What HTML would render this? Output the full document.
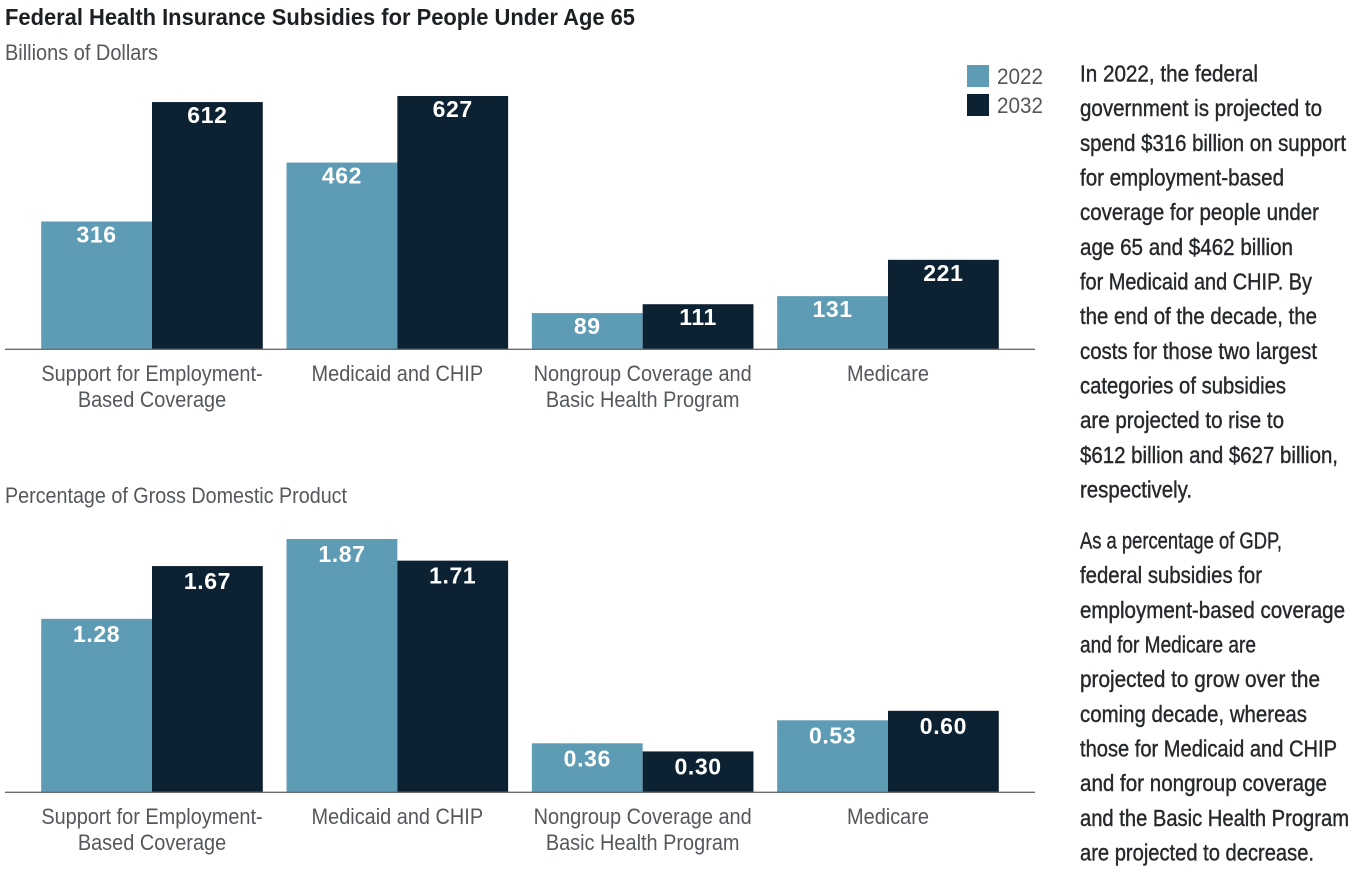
<!DOCTYPE html>
<html lang="en">
<head>
<meta charset="utf-8">
<title>Federal Health Insurance Subsidies for People Under Age 65</title>
<style>
html,body{margin:0;padding:0;background:#fff;width:1360px;height:882px;overflow:hidden}
svg{display:block;font-family:"Liberation Sans",sans-serif}
.title{font-size:23.5px;font-weight:700;fill:#1c2023}
.sub{font-size:22px;fill:#54585c}
.cat{font-size:22.5px;fill:#54585c;text-anchor:middle}
.val{font-size:23px;font-weight:700;fill:#fff;text-anchor:middle;letter-spacing:.6px}
.leg{font-size:22px;fill:#54585c}
.body{font-size:23px;fill:#26292c;stroke:#26292c;stroke-width:.4px}
</style>
</head>
<body>
<svg id="chart" xmlns="http://www.w3.org/2000/svg" width="1360" height="882" viewBox="0 0 1360 882">
  <text class="title" x="5" y="25" textLength="630" lengthAdjust="spacingAndGlyphs">Federal Health Insurance Subsidies for People Under Age 65</text>
  <text class="sub" x="5" y="60" textLength="153" lengthAdjust="spacingAndGlyphs">Billions of Dollars</text>
  <text class="sub" x="5" y="503" textLength="342" lengthAdjust="spacingAndGlyphs">Percentage of Gross Domestic Product</text>

  <g>
    <rect x="967" y="65" width="22" height="22" fill="#5e9cb5"/>
    <text class="leg" x="997" y="84" textLength="46" lengthAdjust="spacingAndGlyphs">2022</text>
    <rect x="967" y="94" width="22" height="22" fill="#0c2233"/>
    <text class="leg" x="997" y="113" textLength="46" lengthAdjust="spacingAndGlyphs">2032</text>
  </g>

  <g id="top-panel"></g>
  <g id="bottom-panel"></g>

  <g>
    <text class="body" x="1080" y="81.5" textLength="178" lengthAdjust="spacingAndGlyphs">In 2022, the federal</text>
    <text class="body" x="1080" y="116.2" textLength="242" lengthAdjust="spacingAndGlyphs">government is projected to</text>
    <text class="body" x="1080" y="150.8" textLength="266" lengthAdjust="spacingAndGlyphs">spend $316 billion on support</text>
    <text class="body" x="1080" y="185.5" textLength="204" lengthAdjust="spacingAndGlyphs">for employment-based</text>
    <text class="body" x="1080" y="220.2" textLength="239" lengthAdjust="spacingAndGlyphs">coverage for people under</text>
    <text class="body" x="1080" y="254.8" textLength="213" lengthAdjust="spacingAndGlyphs">age 65 and $462 billion</text>
    <text class="body" x="1080" y="289.5" textLength="232" lengthAdjust="spacingAndGlyphs">for Medicaid and CHIP. By</text>
    <text class="body" x="1080" y="324.2" textLength="237" lengthAdjust="spacingAndGlyphs">the end of the decade, the</text>
    <text class="body" x="1080" y="358.8" textLength="237" lengthAdjust="spacingAndGlyphs">costs for those two largest</text>
    <text class="body" x="1080" y="393.5" textLength="206" lengthAdjust="spacingAndGlyphs">categories of subsidies</text>
    <text class="body" x="1080" y="428.2" textLength="204" lengthAdjust="spacingAndGlyphs">are projected to rise to</text>
    <text class="body" x="1080" y="462.8" textLength="258" lengthAdjust="spacingAndGlyphs">$612 billion and $627 billion,</text>
    <text class="body" x="1080" y="497.5" textLength="112" lengthAdjust="spacingAndGlyphs">respectively.</text>
  </g>
  <g>
    <text class="body" x="1080" y="548.5" textLength="202" lengthAdjust="spacingAndGlyphs">As a percentage of GDP,</text>
    <text class="body" x="1080" y="583.2" textLength="182" lengthAdjust="spacingAndGlyphs">federal subsidies for</text>
    <text class="body" x="1080" y="617.8" textLength="265" lengthAdjust="spacingAndGlyphs">employment-based coverage</text>
    <text class="body" x="1080" y="652.5" textLength="176" lengthAdjust="spacingAndGlyphs">and for Medicare are</text>
    <text class="body" x="1080" y="687.2" textLength="240" lengthAdjust="spacingAndGlyphs">projected to grow over the</text>
    <text class="body" x="1080" y="721.8" textLength="227" lengthAdjust="spacingAndGlyphs">coming decade, whereas</text>
    <text class="body" x="1080" y="756.5" textLength="257" lengthAdjust="spacingAndGlyphs">those for Medicaid and CHIP</text>
    <text class="body" x="1080" y="791.2" textLength="247" lengthAdjust="spacingAndGlyphs">and for nongroup coverage</text>
    <text class="body" x="1080" y="825.8" textLength="269" lengthAdjust="spacingAndGlyphs">and the Basic Health Program</text>
    <text class="body" x="1080" y="860.5" textLength="234" lengthAdjust="spacingAndGlyphs">are projected to decrease.</text>
  </g>
</svg>
<script>
const categoryLines = [
  ["Support for Employment-", "Based Coverage"],
  ["Medicaid and CHIP"],
  ["Nongroup Coverage and", "Basic Health Program"],
  ["Medicare"]
];
const years = ["2022", "2032"];
const dollars2022 = [316, 462, 89, 131];
const dollars2032 = [612, 627, 111, 221];
const gdpShare2022 = [1.28, 1.87, 0.36, 0.53];
const gdpShare2032 = [1.67, 1.71, 0.30, 0.60];

const NS = "http://www.w3.org/2000/svg";
const seriesColors = ["#5e9cb5", "#0c2233"];
const groupLeft = 41.2, groupStep = 245.33, barWidth = 110.8;
const plotHeight = 253;

function xBar(groupIndex, seriesIndex) {
  return groupLeft + groupStep * groupIndex + barWidth * seriesIndex;
}
function xCenter(groupIndex) {
  return groupLeft + groupStep * groupIndex + barWidth;
}
function heightFor(value, maxValue) {
  return value / maxValue * plotHeight;
}

function drawPanel(panelId, baseline, series, maxValue, decimals, labelOffset) {
  const panel = document.getElementById(panelId);
  series.forEach(function (values, s) {
    values.forEach(function (value, g) {
      const h = heightFor(value, maxValue);
      const bar = document.createElementNS(NS, "rect");
      bar.setAttribute("x", xBar(g, s));
      bar.setAttribute("y", baseline - h);
      bar.setAttribute("width", barWidth);
      bar.setAttribute("height", h);
      bar.setAttribute("fill", seriesColors[s]);
      
      
      panel.appendChild(bar);

      const label = document.createElementNS(NS, "text");
      label.setAttribute("class", "val");
      label.setAttribute("x", xBar(g, s) + barWidth / 2);
      label.setAttribute("y", baseline - h + labelOffset);
      label.textContent = value.toFixed(decimals);
      
      
      panel.appendChild(label);
    });
  });

  const axis = document.createElementNS(NS, "line");
  axis.setAttribute("x1", 5);
  axis.setAttribute("x2", 1035);
  axis.setAttribute("y1", baseline + 0.3);
  axis.setAttribute("y2", baseline + 0.3);
  axis.setAttribute("stroke", "#6b6e70");
  axis.setAttribute("stroke-width", 1.4);
  
  
  panel.appendChild(axis);

  categoryLines.forEach(function (lines, g) {
    lines.forEach(function (line, i) {
      const t = document.createElementNS(NS, "text");
      t.setAttribute("class", "cat");
      t.setAttribute("x", xCenter(g));
      t.setAttribute("y", baseline + 32 + i * 26);
      t.textContent = line;
      
      
      panel.appendChild(t);
      const natural = t.getComputedTextLength();
      t.setAttribute("textLength", natural * 0.885);
      t.setAttribute("lengthAdjust", "spacingAndGlyphs");
    });
  });
}

drawPanel("top-panel", 349, [dollars2022, dollars2032], Math.max.apply(null, dollars2022.concat(dollars2032)), 0, 21);
drawPanel("bottom-panel", 792, [gdpShare2022, gdpShare2032], Math.max.apply(null, gdpShare2022.concat(gdpShare2032)), 2, 23);
</script>
</body>
</html>
